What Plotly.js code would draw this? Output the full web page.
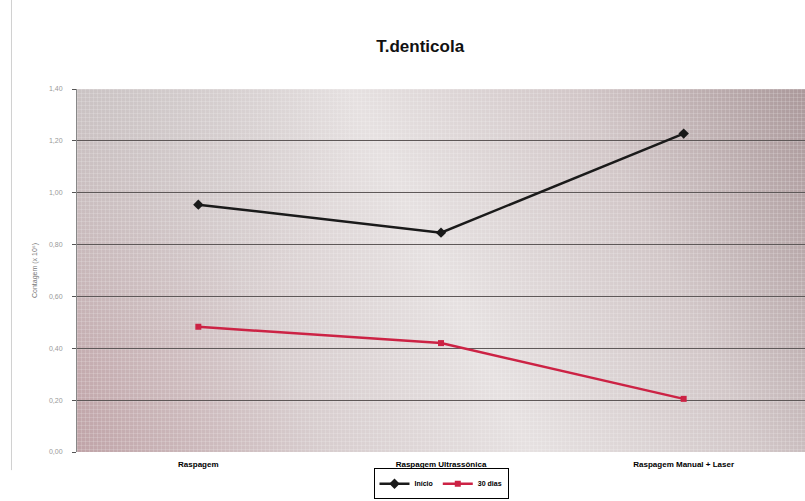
<!DOCTYPE html>
<html>
<head>
<meta charset="utf-8">
<script src="https://cdn.plot.ly/plotly-3.0.1.min.js"></script>
<style>html,body{margin:0;padding:0;background:#fff;}#chart{width:805px;height:501px;}</style>
</head>
<body>
<div id="chart"></div>
<script>
const categories = ["Raspagem", "Raspagem Ultrassônica", "Raspagem Manual + Laser"];
const inicio = [0.954, 0.846, 1.228];
const dias30 = [0.483, 0.420, 0.205];
const seriesNames = ["Início", "30 dias"];
const yTickVals = [0, 0.2, 0.4, 0.6, 0.8, 1.0, 1.2, 1.4];
const yTickText = ["0,00", "0,20", "0,40", "0,60", "0,80", "1,00", "1,20", "1,40"];

// decorative gradient background for the plot area
function makeBg() {
  const w = 728, h = 363;
  const c = document.createElement('canvas');
  c.width = w; c.height = h;
  const g = c.getContext('2d');
  const lg = g.createLinearGradient(0, h, w, 0);
  lg.addColorStop(0, '#c0a4a8');
  lg.addColorStop(0.28, '#d8cecf');
  lg.addColorStop(0.5, '#e6e1e1');
  lg.addColorStop(0.75, '#d2c7c8');
  lg.addColorStop(1, '#ab999b');
  g.fillStyle = lg;
  g.fillRect(0, 0, w, h);
  const rg = g.createRadialGradient(0, 0, 0, 0, 0, 280);
  rg.addColorStop(0, 'rgba(200,196,196,0.7)');
  rg.addColorStop(1, 'rgba(200,196,196,0)');
  g.fillStyle = rg;
  g.fillRect(0, 0, w, h);
  g.strokeStyle = 'rgba(255,255,255,0.16)';
  g.lineWidth = 1;
  for (let x = 0.5; x < w; x += 4) { g.beginPath(); g.moveTo(x, 0); g.lineTo(x, h); g.stroke(); }
  for (let y = 0.5; y < h; y += 4) { g.beginPath(); g.moveTo(0, y); g.lineTo(w, y); g.stroke(); }
  return c.toDataURL('image/png');
}

const traces = [
  {
    x: categories, y: inicio, name: seriesNames[0], type: 'scatter', mode: 'lines+markers',
    line: {color: '#1a1a1a', width: 2.5},
    marker: {symbol: 'diamond', size: 8, color: '#1a1a1a'}
  },
  {
    x: categories, y: dias30, name: seriesNames[1], type: 'scatter', mode: 'lines+markers',
    line: {color: '#cc2244', width: 2.5},
    marker: {symbol: 'square', size: 6, color: '#cc2244'}
  }
];

const layout = {
  width: 805, height: 501,
  margin: {l: 77, r: 0, t: 89, b: 49},
  paper_bgcolor: '#ffffff',
  plot_bgcolor: 'rgba(0,0,0,0)',
  title: {
    text: '<b>T.denticola</b>',
    font: {family: 'Liberation Sans, Arial, sans-serif', size: 17, color: '#111'},
    x: 0.522, xref: 'container', xanchor: 'center',
    y: 0.908, yref: 'container', yanchor: 'middle'
  },
  xaxis: {
    type: 'category', range: [-0.5, 2.5],
    showgrid: false, zeroline: false, showline: false, ticks: '',
    ticklabelstandoff: 6,
    tickfont: {family: 'Liberation Sans, Arial, sans-serif', size: 8, color: '#000', weight: 'bold'}
  },
  yaxis: {
    range: [0, 1.4], tickvals: yTickVals, ticktext: yTickText,
    showgrid: true, gridcolor: '#5e5858', gridwidth: 1,
    zeroline: false, showline: true, linecolor: '#888', linewidth: 1,
    ticks: 'outside', ticklen: 4, tickcolor: '#555',
    ticklabelstandoff: 8,
    tickfont: {family: 'Liberation Sans, Arial, sans-serif', size: 7, color: '#999'},
    title: {text: 'Contagem (x 10⁶)', font: {family: 'Liberation Sans, Arial, sans-serif', size: 7, color: '#777'}, standoff: 10}
  },
  legend: {
    orientation: 'h', x: 0.5, xanchor: 'center', y: -0.13, yanchor: 'bottom',
    bgcolor: '#ffffff', bordercolor: '#000', borderwidth: 1,
    font: {family: 'Liberation Sans, Arial, sans-serif', size: 7, color: '#000', weight: 'bold'},
    itemwidth: 30, tracegroupgap: 0
  },
  images: [{
    source: makeBg(), xref: 'paper', yref: 'paper', x: 0, y: 1, sizex: 1, sizey: 1,
    sizing: 'stretch', layer: 'below', xanchor: 'left', yanchor: 'top'
  }],
  shapes: [{
    type: 'line', xref: 'paper', yref: 'paper', x0: -0.09, x1: -0.09, y0: -0.05, y1: 1.25,
    line: {color: '#d0d0d0', width: 1}
  }],
  showlegend: true
};

Plotly.newPlot('chart', traces, layout, {displayModeBar: false, staticPlot: true});
</script>
</body>
</html>
